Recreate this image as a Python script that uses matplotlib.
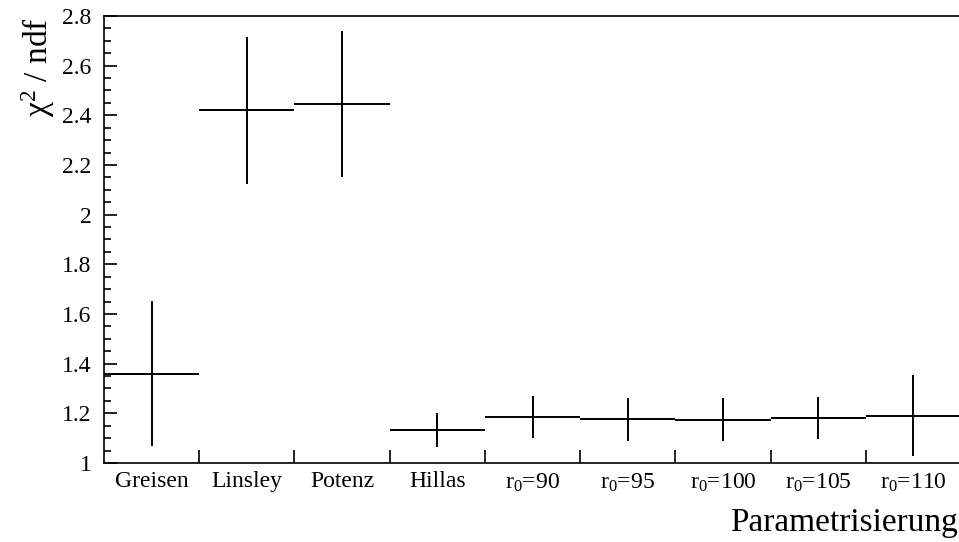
import numpy as np
import matplotlib.pyplot as plt
from matplotlib.ticker import MultipleLocator, FormatStrFormatter, FixedLocator

plt.rcParams['font.family'] = ['Liberation Serif', 'DejaVu Serif']
plt.rcParams['mathtext.fontset'] = 'custom'
plt.rcParams['mathtext.rm'] = 'Liberation Serif'
plt.rcParams['mathtext.it'] = 'Liberation Serif:italic'

# data
labels = ['Greisen', 'Linsley', 'Potenz', 'Hillas', 'r$_0$=90', 'r$_0$=95',
          'r$_0$=100', 'r$_0$=105', 'r$_0$=110']
chi2 = [1.36, 2.42, 2.446, 1.134, 1.185, 1.176, 1.175, 1.18, 1.19]
err = [0.292, 0.296, 0.294, 0.068, 0.086, 0.086, 0.085, 0.085, 0.163]

x = np.arange(len(labels)) + 0.5

fig = plt.figure(figsize=(9.59, 5.42), dpi=100)
ax = fig.add_axes([104/959, 1 - 463/542, 857/959, 447/542])

ax.errorbar(x, chi2, xerr=0.5, yerr=err, fmt='none', ecolor='black', elinewidth=1.4)

ax.set_xlim(0, len(labels))
ax.set_ylim(1, 2.8)

# y axis
ax.yaxis.set_major_locator(MultipleLocator(0.2))
ax.yaxis.set_minor_locator(MultipleLocator(0.05))
ax.yaxis.set_major_formatter(FormatStrFormatter('%g'))
ax.tick_params(axis='y', which='major', direction='in', length=9.5, width=1.2,
               labelsize=17, pad=9)
ax.tick_params(axis='y', which='minor', direction='in', length=5, width=1.2)

# x axis: ticks at bin edges, labels at bin centres
ax.xaxis.set_major_locator(FixedLocator(np.arange(1, len(labels))))
ax.xaxis.set_minor_locator(FixedLocator(x))
ax.set_xticklabels([], minor=False)
ax.set_xticklabels(labels, minor=True)
ax.tick_params(axis='x', which='major', direction='in', length=9.5, width=1.2)
ax.tick_params(axis='x', which='minor', length=0, labelsize=17, pad=6)

for s in ax.spines.values():
    s.set_linewidth(1.2)
ax.spines['right'].set_visible(False)

fig.text(958/959, 1 - 523/542, 'Parametrisierung', ha='right', va='center', fontsize=24)
fig.text(38/959, 1 - 17/542, r'$\mathrm{\chi}^{2}$ / ndf', rotation=90,
         ha='center', va='top', fontsize=24)

fig.savefig('out.png', dpi=100)
